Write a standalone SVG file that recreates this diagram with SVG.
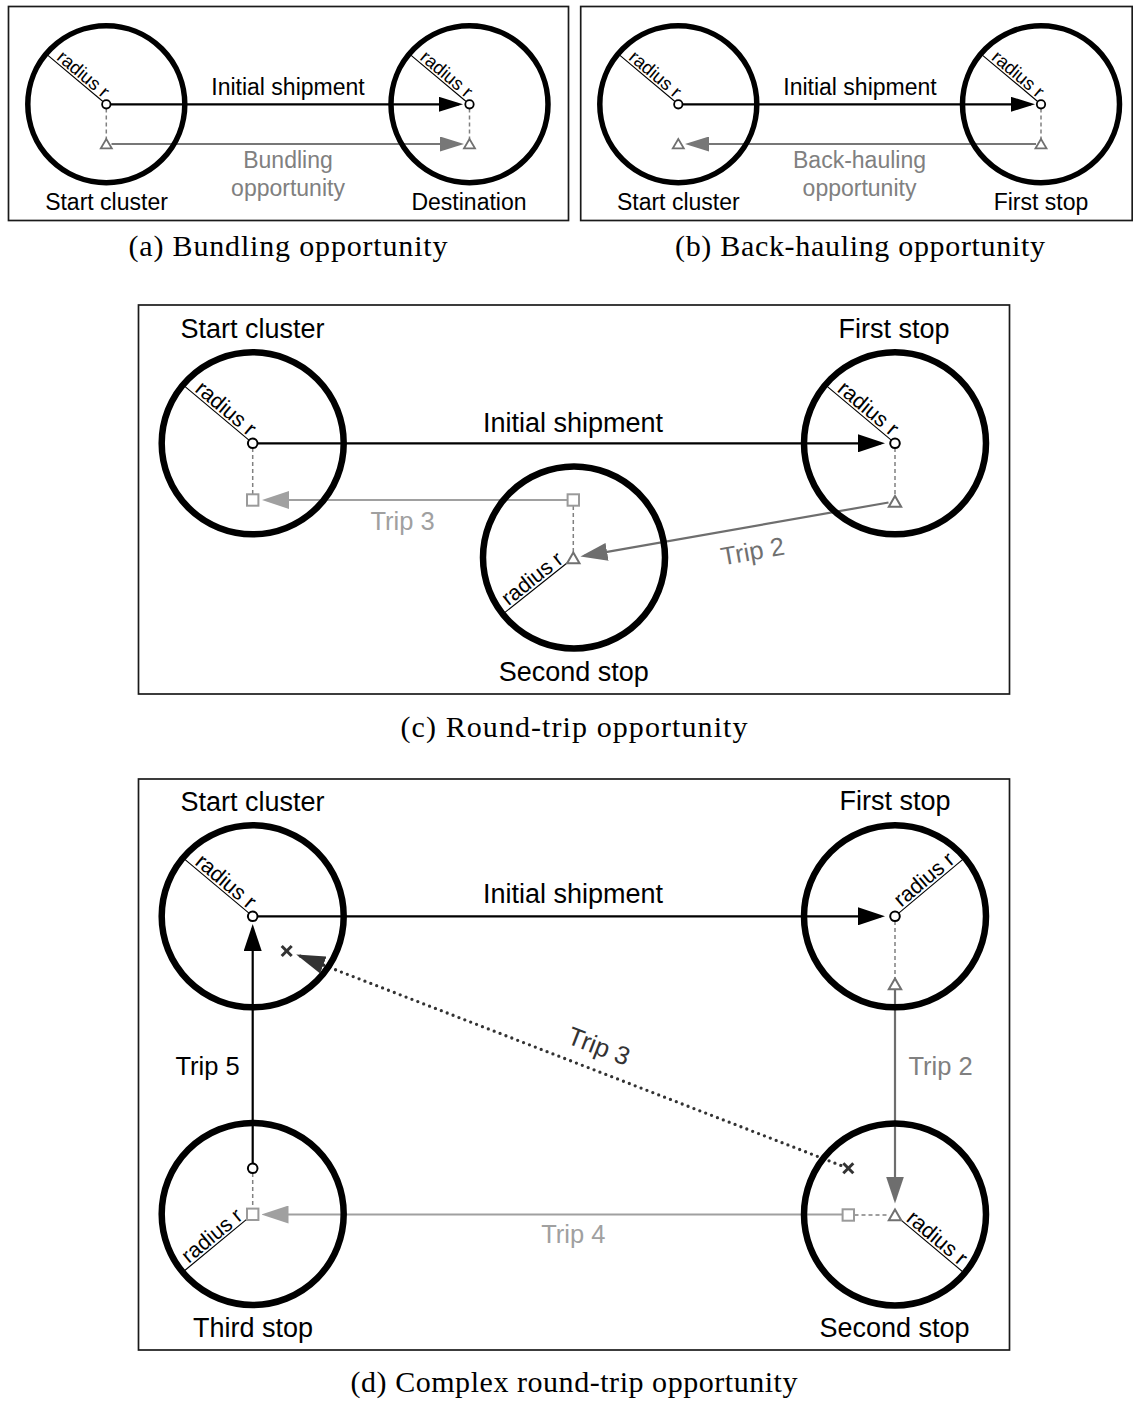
<svg xmlns="http://www.w3.org/2000/svg" width="1133" height="1401" viewBox="0 0 1133 1401">
<style>
.box{fill:none;stroke:#1a1a1a;stroke-width:1.7}
.cl{fill:none;stroke:#000;stroke-width:6.5}
.cls{fill:none;stroke:#000;stroke-width:5.5}
.rad{stroke:#000;stroke-width:1.1}
.sans{font-family:"Liberation Sans",Arial,Helvetica,sans-serif;text-anchor:middle}
.lbl{font-size:27px;fill:#000}
.lbls{font-size:23px;fill:#000}
.trip{font-size:25.5px}
.radt{font-size:21.5px;fill:#000}
.radts{font-size:18.5px;fill:#000}
.pt{fill:#fff;stroke:#000;stroke-width:2}
.tri{fill:#fff;stroke:#707070;stroke-width:2}
.sq{fill:#fff;stroke:#9a9a9a;stroke-width:2}
.dash{stroke:#808080;stroke-width:1.5;stroke-dasharray:4 3;fill:none}
.xm{stroke:#333;stroke-width:3}
.cap{font-family:"Liberation Serif","Times New Roman",serif;font-size:30px;text-anchor:middle;fill:#000}
.k{stroke:#000;stroke-width:2.2;fill:none}
.g{stroke:#6e6e6e;stroke-width:2.2;fill:none}
.gl{stroke:#a0a0a0;stroke-width:2.2;fill:none}
.gs{stroke:#777;stroke-width:1.8;fill:none}
.dot{stroke:#333;stroke-width:3.3;stroke-linecap:round;stroke-dasharray:0 6.3;fill:none}
</style>
<defs>
<marker id="ak" markerUnits="userSpaceOnUse" viewBox="0 0 27 18" markerWidth="27" markerHeight="18" refX="23" refY="9" orient="auto"><path d="M0,0L27,9L0,18z" fill="#000"/></marker>
<marker id="ag" markerUnits="userSpaceOnUse" viewBox="0 0 27 18" markerWidth="27" markerHeight="18" refX="23" refY="9" orient="auto"><path d="M0,0L27,9L0,18z" fill="#6e6e6e"/></marker>
<marker id="al" markerUnits="userSpaceOnUse" viewBox="0 0 27 18" markerWidth="27" markerHeight="18" refX="23" refY="9" orient="auto"><path d="M0,0L27,9L0,18z" fill="#a0a0a0"/></marker>
<marker id="ad" markerUnits="userSpaceOnUse" viewBox="0 0 29 18" markerWidth="29" markerHeight="18" refX="25" refY="9" orient="auto"><path d="M0,0L29,9L0,18z" fill="#333"/></marker>
<marker id="aks" markerUnits="userSpaceOnUse" viewBox="0 0 24 15" markerWidth="24" markerHeight="15" refX="20" refY="7.5" orient="auto"><path d="M0,0L24,7.5L0,15z" fill="#000"/></marker>
<marker id="ags" markerUnits="userSpaceOnUse" viewBox="0 0 24 15" markerWidth="24" markerHeight="15" refX="20" refY="7.5" orient="auto"><path d="M0,0L24,7.5L0,15z" fill="#777"/></marker>
</defs>

<g id="frames">
<rect class="box" x="8.5" y="6.5" width="560" height="214"/>
<rect class="box" x="580.7" y="6.5" width="551.5" height="214"/>
<rect class="box" x="138.5" y="305" width="871" height="389"/>
<rect class="box" x="138.5" y="779" width="871" height="571"/>
</g>
<g id="captions">
<text class="cap" x="288" y="256" textLength="319" lengthAdjust="spacing">(a) Bundling opportunity</text>
<text class="cap" x="860" y="256" textLength="370" lengthAdjust="spacing">(b) Back-hauling opportunity</text>
<text class="cap" x="574" y="737" textLength="347" lengthAdjust="spacing">(c) Round-trip opportunity</text>
<text class="cap" x="574" y="1392" textLength="447" lengthAdjust="spacing">(d) Complex round-trip opportunity</text>
</g>

<g id="connectors">
<!-- (a) -->
<line class="k" x1="110.5" y1="104.3" x2="459" y2="104.3" marker-end="url(#aks)"/>
<line class="gs" x1="111.5" y1="144" x2="460" y2="144" marker-end="url(#ags)"/>
<line class="dash" x1="106.3" y1="108.5" x2="106.3" y2="139"/>
<line class="dash" x1="469.5" y1="108.5" x2="469.5" y2="139"/>
<!-- (b) -->
<line class="k" x1="682.5" y1="104.3" x2="1031" y2="104.3" marker-end="url(#aks)"/>
<line class="gs" x1="1036" y1="144" x2="689" y2="144" marker-end="url(#ags)"/>
<line class="dash" x1="1041" y1="108.5" x2="1041" y2="139"/>
<!-- (c) -->
<line class="k" x1="257.5" y1="443.3" x2="881" y2="443.3" marker-end="url(#ak)"/>
<line class="gl" x1="567" y1="500" x2="266" y2="500" marker-end="url(#al)"/>
<line class="g" x1="888.5" y1="502.5" x2="584.4" y2="555.8" marker-end="url(#ag)"/>
<line class="dash" x1="252.7" y1="448" x2="252.7" y2="494"/>
<line class="dash" x1="895" y1="448" x2="895" y2="496"/>
<line class="dash" x1="573.3" y1="506" x2="573.3" y2="552.5"/>
<!-- (d) -->
<line class="k" x1="257.5" y1="916.3" x2="881" y2="916.3" marker-end="url(#ak)"/>
<line class="g" x1="895" y1="990" x2="895" y2="1199.5" marker-end="url(#ag)"/>
<line class="gl" x1="842.5" y1="1214.5" x2="265.5" y2="1214.5" marker-end="url(#al)"/>
<line class="k" x1="252.7" y1="1163.5" x2="252.7" y2="928" marker-end="url(#ak)"/>
<line class="dot" x1="840.8" y1="1165.4" x2="300" y2="956"/>
<line stroke="none" x1="840.8" y1="1165.4" x2="300" y2="956" marker-end="url(#ad)"/>
<line class="dash" x1="895" y1="921" x2="895" y2="978"/>
<line class="dash" x1="854.5" y1="1215" x2="888.5" y2="1215"/>
<line class="dash" x1="252.7" y1="1173" x2="252.7" y2="1208"/>
</g>

<g id="connector-labels" class="sans">
<text class="lbls" x="288" y="95">Initial shipment</text>
<text class="lbls" x="288" y="168" style="fill:#808080">Bundling</text>
<text class="lbls" x="288" y="196" style="fill:#808080">opportunity</text>
<text class="lbls" x="860" y="95">Initial shipment</text>
<text class="lbls" x="859.5" y="168" style="fill:#808080">Back-hauling</text>
<text class="lbls" x="859.5" y="196" style="fill:#808080">opportunity</text>
<text class="lbl" x="573" y="431.7">Initial shipment</text>
<text class="trip" x="402.5" y="530" fill="#a0a0a0">Trip 3</text>
<text class="trip" transform="translate(752.5,551) rotate(-10)" x="0" y="9" fill="#707070">Trip 2</text>
<text class="lbl" x="573" y="903.3">Initial shipment</text>
<text class="trip" x="940.5" y="1075" fill="#808080">Trip 2</text>
<text class="trip" x="573.3" y="1242.7" fill="#a0a0a0">Trip 4</text>
<text class="trip" x="207.5" y="1075" fill="#000">Trip 5</text>
<text class="trip" transform="translate(599,1046) rotate(21.2)" x="0" y="9" fill="#333">Trip 3</text>
</g>

<g id="a-start">
<circle class="cls" cx="106.3" cy="104.3" r="78.5"/>
<g transform="translate(106.3,104.3) rotate(40)"><line class="rad" x1="-77" y1="0" x2="-4" y2="0"/><text class="sans radts" x="-37" y="-2.2">radius r</text></g>
<circle class="pt" cx="106.3" cy="104.3" r="4.2" style="stroke-width:1.8"/>
<polygon class="tri" points="106.3,139 100.8,148.4 111.8,148.4" style="stroke-width:1.8"/>
<text class="sans lbls" x="106.5" y="210">Start cluster</text>
</g>
<g id="a-destination">
<circle class="cls" cx="469.5" cy="104.3" r="78.5"/>
<g transform="translate(469.5,104.3) rotate(40)"><line class="rad" x1="-77" y1="0" x2="-4" y2="0"/><text class="sans radts" x="-37" y="-2.2">radius r</text></g>
<circle class="pt" cx="469.5" cy="104.3" r="4.2" style="stroke-width:1.8"/>
<polygon class="tri" points="469.5,139 464,148.4 475,148.4" style="stroke-width:1.8"/>
<text class="sans lbls" x="469" y="210">Destination</text>
</g>

<g id="b-start">
<circle class="cls" cx="678.3" cy="104.3" r="78.5"/>
<g transform="translate(678.3,104.3) rotate(40)"><line class="rad" x1="-77" y1="0" x2="-4" y2="0"/><text class="sans radts" x="-37" y="-2.2">radius r</text></g>
<circle class="pt" cx="678.3" cy="104.3" r="4.2" style="stroke-width:1.8"/>
<polygon class="tri" points="678.3,139 672.8,148.4 683.8,148.4" style="stroke-width:1.8"/>
<text class="sans lbls" x="678.3" y="210">Start cluster</text>
</g>
<g id="b-first-stop">
<circle class="cls" cx="1041" cy="104.3" r="78.5"/>
<g transform="translate(1041,104.3) rotate(40)"><line class="rad" x1="-77" y1="0" x2="-4" y2="0"/><text class="sans radts" x="-37" y="-2.2">radius r</text></g>
<circle class="pt" cx="1041" cy="104.3" r="4.2" style="stroke-width:1.8"/>
<polygon class="tri" points="1041,139 1035.5,148.4 1046.5,148.4" style="stroke-width:1.8"/>
<text class="sans lbls" x="1041" y="210">First stop</text>
</g>

<g id="c-start">
<circle class="cl" cx="252.7" cy="443.3" r="91"/>
<g transform="translate(252.7,443.3) rotate(40)"><line class="rad" x1="-89" y1="0" x2="-4.5" y2="0"/><text class="sans radt" x="-43" y="-2.5">radius r</text></g>
<circle class="pt" cx="252.7" cy="443.3" r="4.8"/>
<rect class="sq" x="247" y="494.3" width="11.4" height="11.4"/>
<text class="sans lbl" x="252.5" y="338">Start cluster</text>
</g>
<g id="c-first-stop">
<circle class="cl" cx="895" cy="443.3" r="91"/>
<g transform="translate(895,443.3) rotate(40)"><line class="rad" x1="-89" y1="0" x2="-4.5" y2="0"/><text class="sans radt" x="-43" y="-2.5">radius r</text></g>
<circle class="pt" cx="895" cy="443.3" r="4.8"/>
<polygon class="tri" points="895,496 888.8,506.8 901.2,506.8"/>
<text class="sans lbl" x="894" y="338">First stop</text>
</g>
<g id="c-second-stop">
<circle class="cl" cx="574" cy="557.5" r="91"/>
<g transform="translate(573.3,558) rotate(-38.5)"><line class="rad" x1="-89" y1="0" x2="-6" y2="0"/><text class="sans radt" x="-45" y="-2.5">radius r</text></g>
<rect class="sq" x="567.6" y="494.3" width="11.4" height="11.4"/>
<polygon class="tri" points="573.3,552.5 567.1,563.3 579.5,563.3"/>
<text class="sans lbl" x="573.7" y="681">Second stop</text>
</g>

<g id="d-start">
<circle class="cl" cx="252.7" cy="916.3" r="91"/>
<g transform="translate(252.7,916.3) rotate(40)"><line class="rad" x1="-89" y1="0" x2="-4.5" y2="0"/><text class="sans radt" x="-43" y="-2.5">radius r</text></g>
<circle class="pt" cx="252.7" cy="916.3" r="4.8"/>
<g class="xm"><line x1="281.7" y1="946" x2="291.7" y2="956"/><line x1="281.7" y1="956" x2="291.7" y2="946"/></g>
<text class="sans lbl" x="252.5" y="810.7">Start cluster</text>
</g>
<g id="d-first-stop">
<circle class="cl" cx="895" cy="916.3" r="91"/>
<g transform="translate(895,916.3) rotate(-40)"><line class="rad" x1="4.5" y1="0" x2="89" y2="0"/><text class="sans radt" x="46" y="-2.5">radius r</text></g>
<circle class="pt" cx="895" cy="916.3" r="4.8"/>
<polygon class="tri" points="895,978.5 888.8,989.3 901.2,989.3"/>
<text class="sans lbl" x="895" y="810">First stop</text>
</g>
<g id="d-second-stop">
<circle class="cl" cx="895" cy="1214.5" r="91"/>
<g transform="translate(895,1215) rotate(40)"><line class="rad" x1="6" y1="0" x2="89" y2="0"/><text class="sans radt" x="47" y="-2.5">radius r</text></g>
<polygon class="tri" points="895,1209.5 888.8,1220.3 901.2,1220.3"/>
<rect class="sq" x="842.6" y="1209.3" width="11.4" height="11.4"/>
<g class="xm"><line x1="843.3" y1="1163.3" x2="853.3" y2="1173.3"/><line x1="843.3" y1="1173.3" x2="853.3" y2="1163.3"/></g>
<text class="sans lbl" x="894.5" y="1337">Second stop</text>
</g>
<g id="d-third-stop">
<circle class="cl" cx="252.7" cy="1214" r="91"/>
<g transform="translate(252.7,1214.3) rotate(-39.6)"><line class="rad" x1="-89" y1="0" x2="-6" y2="0"/><text class="sans radt" x="-45" y="-2.5">radius r</text></g>
<circle class="pt" cx="252.7" cy="1168.3" r="4.8"/>
<rect class="sq" x="247" y="1208.6" width="11.4" height="11.4"/>
<text class="sans lbl" x="253" y="1336.5">Third stop</text>
</g>
</svg>
